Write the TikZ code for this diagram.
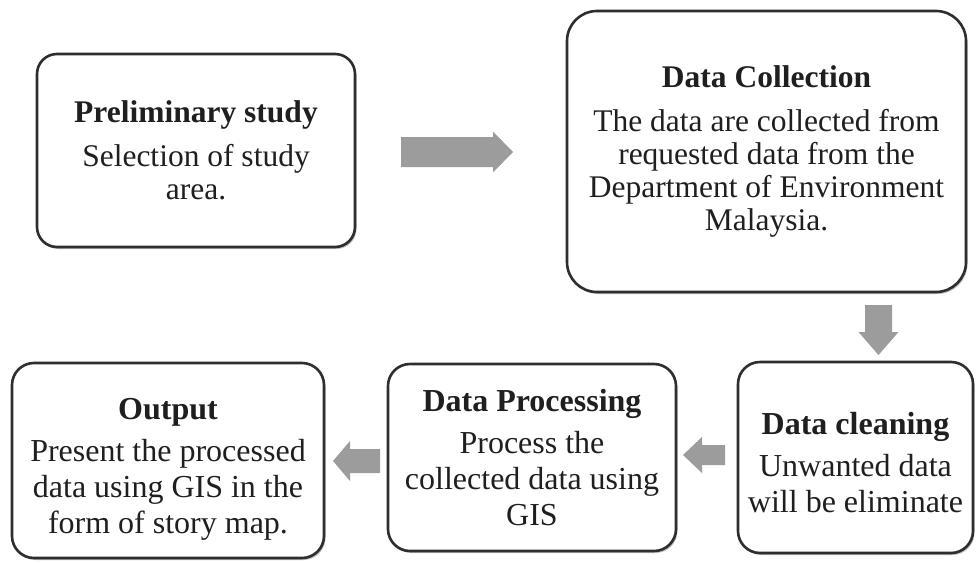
\documentclass[tikz,border=0pt]{standalone}
\usepackage{fontspec}
\setmainfont{Liberation Serif}
\usetikzlibrary{shadows}
\begin{document}
\begin{tikzpicture}[x=1pt,y=-1pt,
  stepbox/.style={draw=black!82, line width=2.6pt, rounded corners=#1, fill=white,
    align=center, inner sep=0pt, text=black!88,
    font=\fontsize{31.5}{33}\selectfont,
    drop shadow={shadow xshift=1.5pt, shadow yshift=-2pt, fill=black, opacity=0.25}},
  stepbox/.default=21pt,
  lowbox/.style={stepbox=22pt, font=\fontsize{32}{36}\selectfont},
  blockarrow/.style={fill=gray!78, draw=none}]
\useasboundingbox (0,0) rectangle (976,562);
\fill[white] (0,0) rectangle (976,562);

\node[stepbox=20pt, minimum width=318pt, minimum height=193pt] (prelim) at (196,150.5)
  {\textbf{Preliminary study}\\[11pt]Selection of study\\area.};
\node[stepbox=30pt, minimum width=399pt, minimum height=281pt] (collect) at (766.5,151.5)
  {\textbf{Data Collection}\\[11pt]The data are collected from\\requested data from the\\Department of Environment\\Malaysia.};
\node[lowbox, minimum width=312pt, minimum height=195pt] (output) at (168,460.5)
  {\rule{0pt}{38pt}\textbf{Output}\\[6pt]Present the processed\\data using GIS in the\\form of story map.};
\node[lowbox, minimum width=288pt, minimum height=187pt] (process) at (532,457.5)
  {\textbf{Data Processing}\\[6pt]Process the\\collected data using\\GIS};
\node[lowbox, minimum width=235pt, minimum height=191pt] (clean) at (855.5,457.5)
  {\rule{0pt}{32pt}\textbf{Data cleaning}\\[6pt]Unwanted data\\will be eliminate};

% block arrows between the boxes
\coordinate (a1) at (401,152);
\fill[blockarrow] (a1) ++(0,-15) -- ++(92,0) -- ++(0,-5.5) -- ++(20,20.5)
  -- ++(-20,20.5) -- ++(0,-5.5) -- ++(-92,0) -- cycle;

\coordinate (a2) at (878.5,305);
\fill[blockarrow] (a2) ++(-13.5,0) -- ++(27,0) -- ++(0,27) -- ++(6.5,0) -- ++(-20,23)
  -- ++(-20,-23) -- ++(6.5,0) -- cycle;

\coordinate (a3) at (725,455);
\fill[blockarrow] (a3) ++(0,-10) -- ++(-23,0) -- ++(0,-8) -- ++(-19,18)
  -- ++(19,18) -- ++(0,-8) -- ++(23,0) -- cycle;

\coordinate (a4) at (380,461);
\fill[blockarrow] (a4) ++(0,-12) -- ++(-30,0) -- ++(0,-8) -- ++(-17,20)
  -- ++(17,20) -- ++(0,-8) -- ++(30,0) -- cycle;
\end{tikzpicture}
\end{document}
